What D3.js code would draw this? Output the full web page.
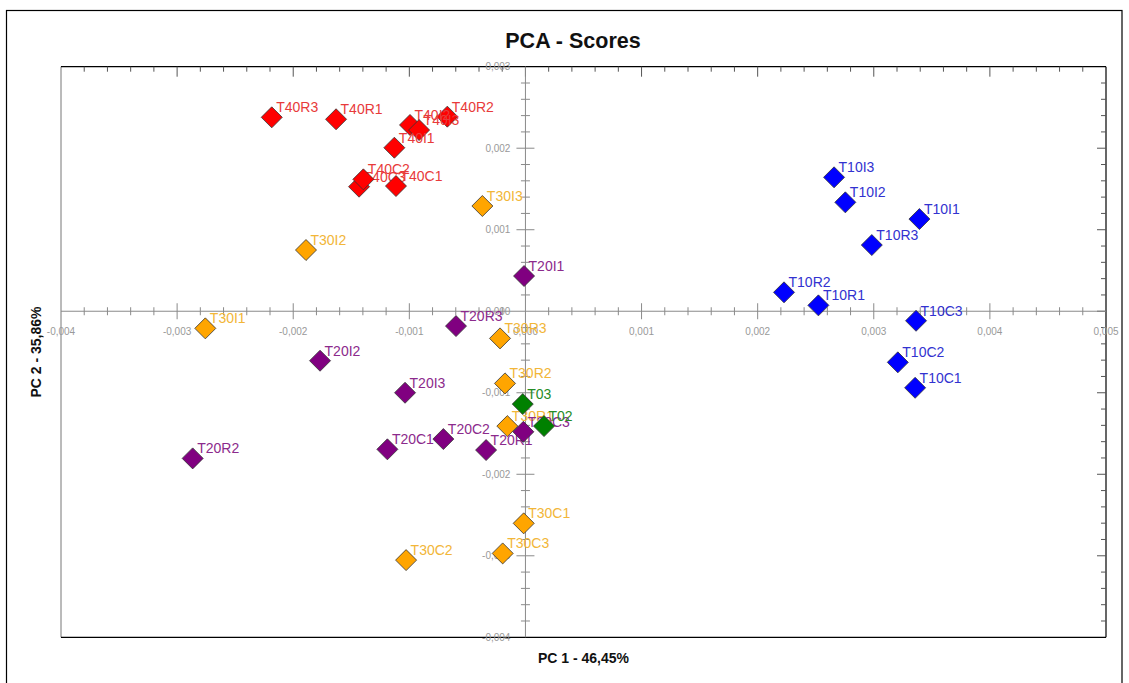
<!DOCTYPE html>
<html>
<head>
<meta charset="utf-8">
<script src="https://cdn.jsdelivr.net/npm/d3@7"></script>
<style>
  html, body { margin: 0; padding: 0; background: #fff; }
  svg { display: block; font-family: "Liberation Sans", Arial, sans-serif; }
</style>
</head>
<body>
<svg id="chart" width="1129" height="683"></svg>
<script>
// ---------------- DATA ----------------
const sampleNames = [
  "T40R3","T40R1","T40R2","T40I2","T40I3","T40I1","T40C3","T40C2","T40C1",
  "T30I3","T30I2","T30I1","T30R3","T30R2","T30R1","T30C1","T30C3","T30C2",
  "T20I1","T20R3","T20I2","T20I3","T20C2","T20R1","T20C3","T20C1","T20R2",
  "T03","T02",
  "T10I3","T10I2","T10I1","T10R3","T10R2","T10R1","T10C3","T10C2","T10C1"
];
const pc1Scores = [
  -0.002185,-0.001631,-0.000673,-0.000994,-0.000916,-0.001129,-0.001433,-0.001396,-0.001115,
  -0.000371,-0.001890,-0.002757,-0.000219,-0.000176,-0.000156,-0.000015,-0.000196,-0.001028,
  -0.000012,-0.000598,-0.001769,-0.001037,-0.000707,-0.000339,-0.000018,-0.001189,-0.002866,
  -0.000023,0.000160,
  0.002658,0.002755,0.003393,0.002983,0.002227,0.002523,0.003364,0.003207,0.003356
];
const pc2Scores = [
  0.002379,0.002355,0.002387,0.002285,0.002223,0.002006,0.001528,0.001618,0.001536,
  0.001291,0.000751,-0.000210,-0.000333,-0.000885,-0.001409,-0.002602,-0.002971,-0.003053,
  0.000432,-0.000182,-0.000607,-0.001000,-0.001568,-0.001703,-0.001479,-0.001694,-0.001805,
  -0.001139,-0.001409,
  0.001643,0.001336,0.001131,0.000812,0.000232,0.000072,-0.000117,-0.000627,-0.000939
];
const sampleGroups = [
  "T40","T40","T40","T40","T40","T40","T40","T40","T40",
  "T30","T30","T30","T30","T30","T30","T30","T30","T30",
  "T20","T20","T20","T20","T20","T20","T20","T20","T20",
  "T0","T0",
  "T10","T10","T10","T10","T10","T10","T10","T10","T10"
];
const xTickValues = [-0.004,-0.003,-0.002,-0.001,0,0.001,0.002,0.003,0.004,0.005];
const xTickLabels = ["-0,004","-0,003","-0,002","-0,001","0,000","0,001","0,002","0,003","0,004","0,005"];
const yTickValues = [-0.004,-0.003,-0.002,-0.001,0,0.001,0.002,0.003];
const yTickLabels = ["-0,004","-0,003","-0,002","-0,001","0,000","0,001","0,002","0,003"];
const chartTitle = "PCA - Scores";
const xTitle = "PC 1 - 46,45%";
const yTitle = "PC 2 - 35,86%";

// ---------------- STYLE ----------------
const groupColors = { T40: "#ff0000", T30: "#ffa500", T20: "#800080", T0: "#008000", T10: "#0000ff" };
const labelColors = { T40: "#e83a3a", T30: "#f2b638", T20: "#8c2a8c", T0: "#268c26", T10: "#3232d0" };

const svg = d3.select("#chart");
const W = 1129, H = 683;
const plot = { left: 61, right: 1106, top: 66.7, bottom: 637.3 };

svg.append("rect").attr("width", W).attr("height", H).attr("fill", "#fff");
// outer border
svg.append("rect").attr("x", 6.5).attr("y", 10.5).attr("width", 1115.5).attr("height", 690)
  .attr("fill", "none").attr("stroke", "#000").attr("stroke-width", 1.2);

const x = d3.scaleLinear().domain([-0.004, 0.005]).range([plot.left, plot.right]);
const y = d3.scaleLinear().domain([-0.004, 0.003]).range([plot.bottom, plot.top]);

// title
svg.append("text").attr("x", 573).attr("y", 48).attr("text-anchor", "middle")
  .attr("font-size", 21.5).attr("font-weight", "bold").attr("fill", "#111").text(chartTitle);

// frame
const frame = svg.append("g");
frame.append("line").attr("x1", plot.left).attr("x2", plot.left).attr("y1", plot.top).attr("y2", plot.bottom)
  .attr("stroke", "#777").attr("stroke-width", 1);
frame.append("line").attr("x1", plot.left).attr("x2", plot.right).attr("y1", plot.top).attr("y2", plot.top)
  .attr("stroke", "#000").attr("stroke-width", 1.2);
frame.append("line").attr("x1", plot.left).attr("x2", plot.right).attr("y1", plot.bottom).attr("y2", plot.bottom)
  .attr("stroke", "#000").attr("stroke-width", 1.2);
frame.append("line").attr("x1", plot.right).attr("x2", plot.right).attr("y1", plot.top).attr("y2", plot.bottom)
  .attr("stroke", "#000").attr("stroke-width", 1.2);

const x0 = x(0), y0 = y(0);
const xMinor = d3.range(-20, 26).map(i => i * 0.0002);
const yMinor = d3.range(-20, 16).map(i => i * 0.0002);
const isMajor = v => Math.abs(Math.round(v * 1000) - v * 1000) < 1e-6;

// top edge ticks (pointing down)
frame.selectAll(".tt").data(xMinor.filter(v => v > -0.004 && v < 0.005)).join("line")
  .attr("x1", d => x(d)).attr("x2", d => x(d))
  .attr("y1", plot.top).attr("y2", d => plot.top + (isMajor(d) ? 10 : 5))
  .attr("stroke", "#555").attr("stroke-width", 1);
// right edge ticks (pointing left)
frame.selectAll(".rt").data(yMinor.filter(v => v > -0.004 && v < 0.003)).join("line")
  .attr("y1", d => y(d)).attr("y2", d => y(d))
  .attr("x1", plot.right).attr("x2", d => plot.right - (isMajor(d) ? 9 : 5))
  .attr("stroke", "#555").attr("stroke-width", 1);

// central axes
const axes = svg.append("g");
axes.append("line").attr("x1", plot.left).attr("x2", plot.right).attr("y1", y0).attr("y2", y0)
  .attr("stroke", "#8a8a8a").attr("stroke-width", 1);
axes.append("line").attr("x1", x0).attr("x2", x0).attr("y1", plot.top).attr("y2", plot.bottom)
  .attr("stroke", "#8a8a8a").attr("stroke-width", 1);
axes.selectAll(".xt").data(xMinor.filter(v => v > -0.004 && v < 0.005 && Math.abs(v) > 1e-9)).join("line")
  .attr("x1", d => x(d)).attr("x2", d => x(d))
  .attr("y1", d => y0 - (isMajor(d) ? 8 : 4)).attr("y2", d => y0 + (isMajor(d) ? 8 : 4))
  .attr("stroke", "#8a8a8a").attr("stroke-width", 1);
axes.selectAll(".yt").data(yMinor.filter(v => v > -0.004 && v < 0.003 && Math.abs(v) > 1e-9)).join("line")
  .attr("y1", d => y(d)).attr("y2", d => y(d))
  .attr("x1", d => x0 - (isMajor(d) ? 9 : 4.5)).attr("x2", d => x0 + (isMajor(d) ? 9 : 4.5))
  .attr("stroke", "#8a8a8a").attr("stroke-width", 1);

axes.selectAll(".xl").data(xTickValues).join("text")
  .attr("x", d => x(d)).attr("y", y0 + 23.5).attr("text-anchor", "middle")
  .attr("font-size", 10).attr("fill", "#999").text((d, i) => xTickLabels[i]);
axes.selectAll(".yl").data(yTickValues).join("text")
  .attr("x", x0 - 15).attr("y", d => y(d) + 3.5).attr("text-anchor", "end")
  .attr("font-size", 10).attr("fill", "#999").text((d, i) => yTickLabels[i]);

// axis titles
svg.append("text").attr("x", (plot.left + plot.right) / 2).attr("y", 663).attr("text-anchor", "middle")
  .attr("font-size", 14).attr("font-weight", "bold").attr("fill", "#111").text(xTitle);
svg.append("text").attr("transform", `translate(41,${(plot.top + plot.bottom) / 2}) rotate(-90)`)
  .attr("text-anchor", "middle")
  .attr("font-size", 14).attr("font-weight", "bold").attr("fill", "#111").text(yTitle);

// points
const points = sampleNames.map((name, i) => ({ name, pc1: pc1Scores[i], pc2: pc2Scores[i], group: sampleGroups[i] }));
const r = 10.5;
const diamond = `M0,${-r}L${r},0L0,${r}L${-r},0Z`;
const pg = svg.append("g");
points.forEach(p => {
  const g = pg.append("g").attr("transform", `translate(${x(p.pc1)},${y(p.pc2)})`);
  g.append("path").attr("d", diamond).attr("fill", groupColors[p.group])
    .attr("stroke", "#333").attr("stroke-width", 0.8);
  g.append("text").attr("x", 4.5).attr("y", -5).attr("font-size", 14)
    .attr("fill", labelColors[p.group]).text(p.name);
});
</script>
</body>
</html>
